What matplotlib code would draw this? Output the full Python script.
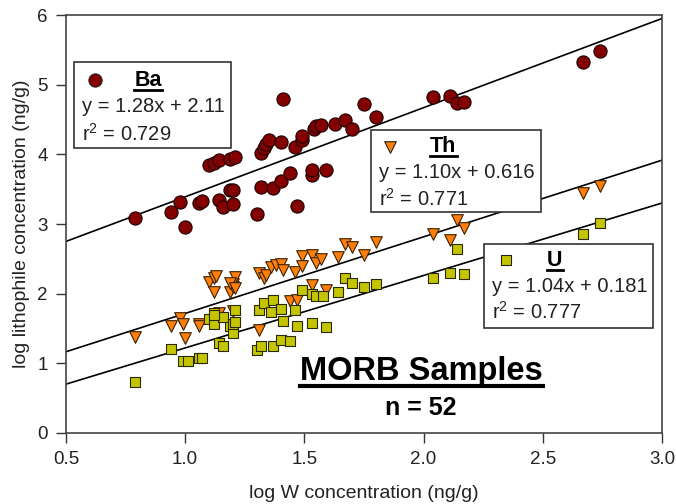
import matplotlib
matplotlib.use("Agg")
import matplotlib.pyplot as plt
from matplotlib.patches import Rectangle
from matplotlib.lines import Line2D

plt.rcParams['font.family'] = ['Liberation Sans', 'DejaVu Sans']
plt.rcParams['mathtext.default'] = 'regular'

# Ba (circles)
ba_x = [0.79, 0.94, 0.98, 1.00, 1.06, 1.07, 1.14, 1.16, 1.20, 1.19, 1.20, 1.10,
        1.12, 1.14, 1.19, 1.21, 1.30, 1.32, 1.37, 1.40, 1.44, 1.47, 1.53, 1.53,
        1.59, 1.32, 1.33, 1.34, 1.35, 1.40, 1.46, 1.49, 1.49, 1.54, 1.55, 1.57,
        1.63, 1.67, 1.70, 1.41, 1.75, 1.80, 2.04, 2.11, 2.14, 2.17, 2.67, 2.74]
ba_y = [3.08, 3.17, 3.31, 2.95, 3.30, 3.33, 3.35, 3.25, 3.29, 3.49, 3.49, 3.85,
        3.88, 3.92, 3.93, 3.96, 3.15, 3.53, 3.52, 3.62, 3.73, 3.26, 3.70, 3.77,
        3.78, 4.02, 4.09, 4.15, 4.20, 4.18, 4.11, 4.21, 4.26, 4.37, 4.40, 4.42,
        4.44, 4.49, 4.36, 4.80, 4.72, 4.53, 4.82, 4.84, 4.74, 4.75, 5.32, 5.48]

# Th (triangles)
th_x = [0.79, 0.94, 0.98, 0.99, 1.00, 1.06, 1.06, 1.10, 1.12, 1.13, 1.12, 1.19,
        1.20, 1.20, 1.21, 1.19, 1.31, 1.31, 1.33, 1.34, 1.36, 1.38, 1.40, 1.41,
        1.46, 1.49, 1.49, 1.53, 1.55, 1.57, 1.64, 1.67, 1.70, 1.75, 1.80, 1.53,
        1.59, 1.44, 1.47, 2.04, 2.11, 2.14, 2.17, 2.67, 2.74, 1.14, 1.20, 1.21]
th_y = [1.38, 1.53, 1.65, 1.56, 1.37, 1.56, 1.53, 2.17, 2.22, 2.25, 2.03, 2.03,
        2.09, 2.14, 2.24, 2.15, 1.48, 2.30, 2.22, 2.27, 2.38, 2.41, 2.42, 2.34,
        2.31, 2.54, 2.39, 2.55, 2.44, 2.50, 2.53, 2.71, 2.67, 2.55, 2.74, 2.12,
        2.05, 1.90, 1.91, 2.86, 2.77, 3.06, 2.94, 3.45, 3.54, 1.72, 1.75, 2.08]

# U (squares)
u_x = [0.79, 0.94, 0.99, 1.01, 1.06, 1.07, 1.10, 1.12, 1.12, 1.14, 1.16, 1.19,
       1.20, 1.21, 1.20, 1.16, 1.30, 1.32, 1.37, 1.40, 1.44, 1.31, 1.33, 1.36,
       1.37, 1.40, 1.41, 1.46, 1.47, 1.49, 1.53, 1.53, 1.55, 1.58, 1.59, 1.64,
       1.67, 1.70, 1.75, 1.80, 2.04, 2.11, 2.17, 2.14, 2.67, 2.74, 1.21, 1.12]
u_y = [0.73, 1.20, 1.03, 1.03, 1.07, 1.07, 1.64, 1.72, 1.56, 1.29, 1.25, 1.54,
       1.43, 1.77, 1.56, 1.67, 1.19, 1.25, 1.25, 1.34, 1.32, 1.76, 1.87, 1.74,
       1.91, 1.78, 1.61, 1.77, 1.53, 2.05, 1.58, 2.00, 1.96, 1.97, 1.52, 2.03,
       2.23, 2.15, 2.10, 2.14, 2.22, 2.29, 2.28, 2.64, 2.86, 3.01, 1.60, 1.70]

# regression lines: slope, intercept
fits = {"Ba": (1.28, 2.11), "Th": (1.10, 0.616), "U": (1.04, 0.181)}
r2 = {"Ba": "0.729", "Th": "0.771", "U": "0.777"}

ba_color = '#840000'
th_color = '#FF7F0A'
u_color = '#C4C400'

fig = plt.figure(figsize=(6.76, 5.04), dpi=100)
ax = fig.add_axes([0.0976, 0.1409, 0.8816, 0.8293])

xs = [0.5, 3.0]
for k in ["Ba", "Th", "U"]:
    m, b = fits[k]
    ax.plot(xs, [m * x + b for x in xs], color='black', lw=1.2, zorder=2)

ax.scatter(ba_x, ba_y, s=90, marker='o', color=ba_color, edgecolors='#1a0000', linewidths=0.8, zorder=3)
ax.scatter(th_x, th_y, s=70, marker='v', color=th_color, edgecolors='#3a2000', linewidths=0.8, zorder=3)
ax.scatter(u_x, u_y, s=62, marker='s', color=u_color, edgecolors='#2a2a00', linewidths=0.8, zorder=4)

ax.set_xlim(0.5, 3.0)
ax.set_ylim(0, 6)
ax.set_xticks([0.5, 1.0, 1.5, 2.0, 2.5, 3.0])
ax.set_xticklabels(["0.5", "1.0", "1.5", "2.0", "2.5", "3.0"])
ax.set_yticks(range(7))
ax.tick_params(direction='out', length=7, width=1, labelsize=13.5, pad=6, colors='#333333',
               labelcolor='#222222')
for sp in ax.spines.values():
    sp.set_color('#444444')
    sp.set_linewidth(1.2)

ax.set_xlabel("log W concentration (ng/g)", fontsize=14, labelpad=12, color='#222222')
ax.set_ylabel("log lithophile concentration (ng/g)", fontsize=14, labelpad=5, color='#222222')

# legend boxes: (x0, x1, y_bottom, y_top), marker pos, title pos, text left, eq y, r2 y
boxes = [
    ("Ba", (0.534, 1.191, 4.09, 5.33), (0.622, 5.065), (0.844, 5.065), 0.566, 4.68, 4.30, 'o', ba_color, 90),
    ("Th", (1.778, 2.492, 3.17, 4.35), (1.859, 4.11), (2.083, 4.11), 1.812, 3.735, 3.357, 'v', th_color, 70),
    ("U", (2.255, 2.961, 1.50, 2.71), (2.344, 2.48), (2.551, 2.48), 2.288, 2.10, 1.74, 's', u_color, 62),
]
titles = []
for name, (x0, x1, y0, y1), mpos, tpos, tx, eqy, r2y, mk, col, sz in boxes:
    ax.add_patch(Rectangle((x0, y0), x1 - x0, y1 - y0, facecolor='white',
                           edgecolor='#333333', lw=1.2, zorder=5))
    ax.scatter([mpos[0]], [mpos[1]], s=sz, marker=mk, color=col,
               edgecolors='#222222', linewidths=0.8, zorder=6)
    t = ax.text(tpos[0], tpos[1], name, fontsize=15.5, fontweight='bold',
                ha='center', va='center', zorder=6)
    titles.append((t, 2.0))
    m, b = fits[name]
    bstr = ("%.3f" % b) if name != "Ba" else ("%.2f" % b)
    ax.text(tx, eqy, "y = %.2fx + %s" % (m, bstr), fontsize=14.5,
            ha='left', va='center', zorder=6, color='#222222')
    ax.text(tx, r2y, "r$^2$ = " + r2[name], fontsize=14.5,
            ha='left', va='center', zorder=6, color='#222222')

morb = ax.text(1.99, 0.88, "MORB Samples", fontsize=23.5, fontweight='bold',
               ha='center', va='center', zorder=6)
titles.append((morb, 3.0))
ax.text(1.99, 0.36, "n = 52", fontsize=18, fontweight='bold',
        ha='center', va='center', zorder=6)

# underline the titles
fig.canvas.draw()
inv = fig.transFigure.inverted()
for t, lw in titles:
    bb = t.get_window_extent()
    yline = bb.y0 + 1.0
    (fx0, fy), (fx1, _) = inv.transform([(bb.x0, yline), (bb.x1, yline)])
    fig.add_artist(Line2D([fx0, fx1], [fy, fy], transform=fig.transFigure,
                          color='black', lw=lw, zorder=7))

fig.savefig("out.png", dpi=100)
